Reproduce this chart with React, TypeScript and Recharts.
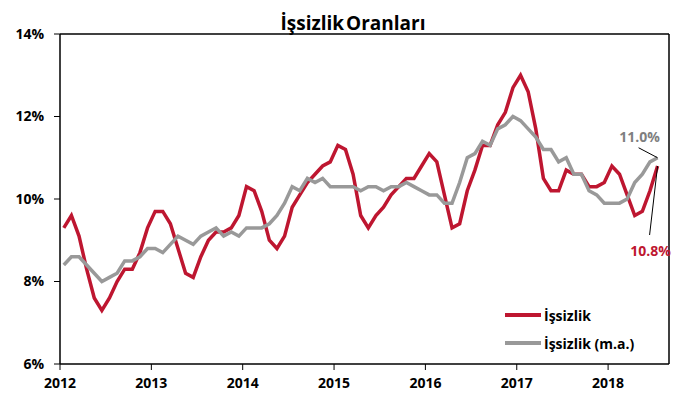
import { LineChart, Line, XAxis, YAxis, Legend, ReferenceLine } from "recharts";

// aylık veriler, Ocak 2012 - Temmuz 2018
const years = ["2012", "2013", "2014", "2015", "2016", "2017", "2018"];

const unemployment = [
  9.3, 9.6, 9.1, 8.3, 7.6, 7.3, 7.6, 8.0, 8.3, 8.3, 8.7, 9.3,
  9.7, 9.7, 9.4, 8.8, 8.2, 8.1, 8.6, 9.0, 9.2, 9.2, 9.3, 9.6,
  10.3, 10.2, 9.7, 9.0, 8.8, 9.1, 9.8, 10.1, 10.4, 10.6, 10.8, 10.9,
  11.3, 11.2, 10.6, 9.6, 9.3, 9.6, 9.8, 10.1, 10.3, 10.5, 10.5, 10.8,
  11.1, 10.9, 10.1, 9.3, 9.4, 10.2, 10.7, 11.3, 11.3, 11.8, 12.1, 12.7,
  13.0, 12.6, 11.7, 10.5, 10.2, 10.2, 10.7, 10.6, 10.6, 10.3, 10.3, 10.4,
  10.8, 10.6, 10.1, 9.6, 9.7, 10.2, 10.8,
];

const unemploymentSA = [
  8.4, 8.6, 8.6, 8.4, 8.2, 8.0, 8.1, 8.2, 8.5, 8.5, 8.6, 8.8,
  8.8, 8.7, 8.9, 9.1, 9.0, 8.9, 9.1, 9.2, 9.3, 9.1, 9.2, 9.1,
  9.3, 9.3, 9.3, 9.4, 9.6, 9.9, 10.3, 10.2, 10.5, 10.4, 10.5, 10.3,
  10.3, 10.3, 10.3, 10.2, 10.3, 10.3, 10.2, 10.3, 10.3, 10.4, 10.3, 10.2,
  10.1, 10.1, 9.9, 9.9, 10.4, 11.0, 11.1, 11.4, 11.3, 11.7, 11.8, 12.0,
  11.9, 11.7, 11.5, 11.2, 11.2, 10.9, 11.0, 10.6, 10.6, 10.2, 10.1, 9.9,
  9.9, 9.9, 10.0, 10.4, 10.6, 10.9, 11.0,
];

const yTicks = [6, 8, 10, 12, 14];

const data = unemployment.map((v, i) => ({
  t: i + 0.5,
  issizlik: v,
  issizlikMa: unemploymentSA[i],
}));

const lastIndex = unemployment.length - 1;
const RED = "#BE1630";
const GREY = "#999999";
const FONT = "'Open Sans', Lato, sans-serif";

const tickStyle = { fill: "#000", fontSize: 14, fontWeight: 700, fontFamily: FONT };

const redLabel = (props: any) => {
  const { x, y, index, value } = props;
  if (index !== lastIndex) return null;
  return (
    <g>
      <line x1={x} y1={y} x2={x - 8} y2={y + 69} stroke="#000" strokeWidth={1} />
      <text x={x - 7} y={y + 90} textAnchor="middle" fill={RED} fontSize={14} fontWeight={700} fontFamily={FONT}>
        {value.toFixed(1)}%
      </text>
    </g>
  );
};

const greyLabel = (props: any) => {
  const { x, y, index, value } = props;
  if (index !== lastIndex) return null;
  return (
    <g>
      <line x1={x} y1={y} x2={x - 19} y2={y - 10} stroke="#000" strokeWidth={1} />
      <text x={x - 18} y={y - 16} textAnchor="middle" fill="#7F7F7F" fontSize={14} fontWeight={700} fontFamily={FONT}>
        {value.toFixed(1)}%
      </text>
    </g>
  );
};

const renderLegend = (props: any) => (
  <div style={{ fontFamily: FONT, fontWeight: 700, fontSize: 14 }}>
    {props.payload.map((e: any) => (
      <div key={e.value} style={{ display: "flex", alignItems: "center", height: 28 }}>
        <span style={{ width: 36, height: 4, background: e.color, marginRight: 3 }} />
        <span>{e.value}</span>
      </div>
    ))}
  </div>
);

const App = () => {
  return (
    <div style={{ position: "relative", width: 680, height: 401 }}>
      <style>{"body{margin:0}"}</style>
      <div
        style={{
          position: "absolute",
          left: 253,
          top: 10,
          width: 200,
          textAlign: "center",
          fontFamily: FONT,
          fontWeight: 700,
          fontSize: 19,
          lineHeight: "26px",
          wordSpacing: -3,
        }}
      >
        İşsizlik Oranları
      </div>
      <LineChart width={680} height={401} data={data} margin={{ top: 34, right: 11, left: 0, bottom: 7 }}>
        <XAxis
          type="number"
          dataKey="t"
          domain={[0, 80]}
          ticks={years.map((_, k) => k * 12)}
          tickFormatter={(v: number) => years[v / 12]}
          allowDataOverflow
          height={30}
          tick={tickStyle}
          tickMargin={8}
          axisLine={{ stroke: "#000", strokeWidth: 1.5 }}
          tickLine={{ stroke: "#000" }}
        />
        <YAxis
          domain={[6, 14]}
          ticks={yTicks}
          tickFormatter={(v: number) => `${v}%`}
          width={60}
          tick={tickStyle}
          tickMargin={10}
          axisLine={{ stroke: "#000", strokeWidth: 1.5 }}
          tickLine={{ stroke: "#000" }}
        />
        <ReferenceLine y={14} stroke="#000" strokeWidth={1.5} />
        <ReferenceLine x={80} stroke="#000" strokeWidth={1.5} />
        <Legend
          layout="vertical"
          align="center"
          verticalAlign="middle"
          content={renderLegend}
          wrapperStyle={{ left: 505, top: 301, width: 170 }}
        />
        <Line
          type="linear"
          dataKey="issizlik"
          name="İşsizlik"
          stroke={RED}
          strokeWidth={3.5}
          dot={false}
          label={redLabel}
          isAnimationActive={false}
        />
        <Line
          type="linear"
          dataKey="issizlikMa"
          name="İşsizlik (m.a.)"
          stroke={GREY}
          strokeWidth={3.5}
          dot={false}
          label={greyLabel}
          isAnimationActive={false}
        />
      </LineChart>
    </div>
  );
};

export default App;
